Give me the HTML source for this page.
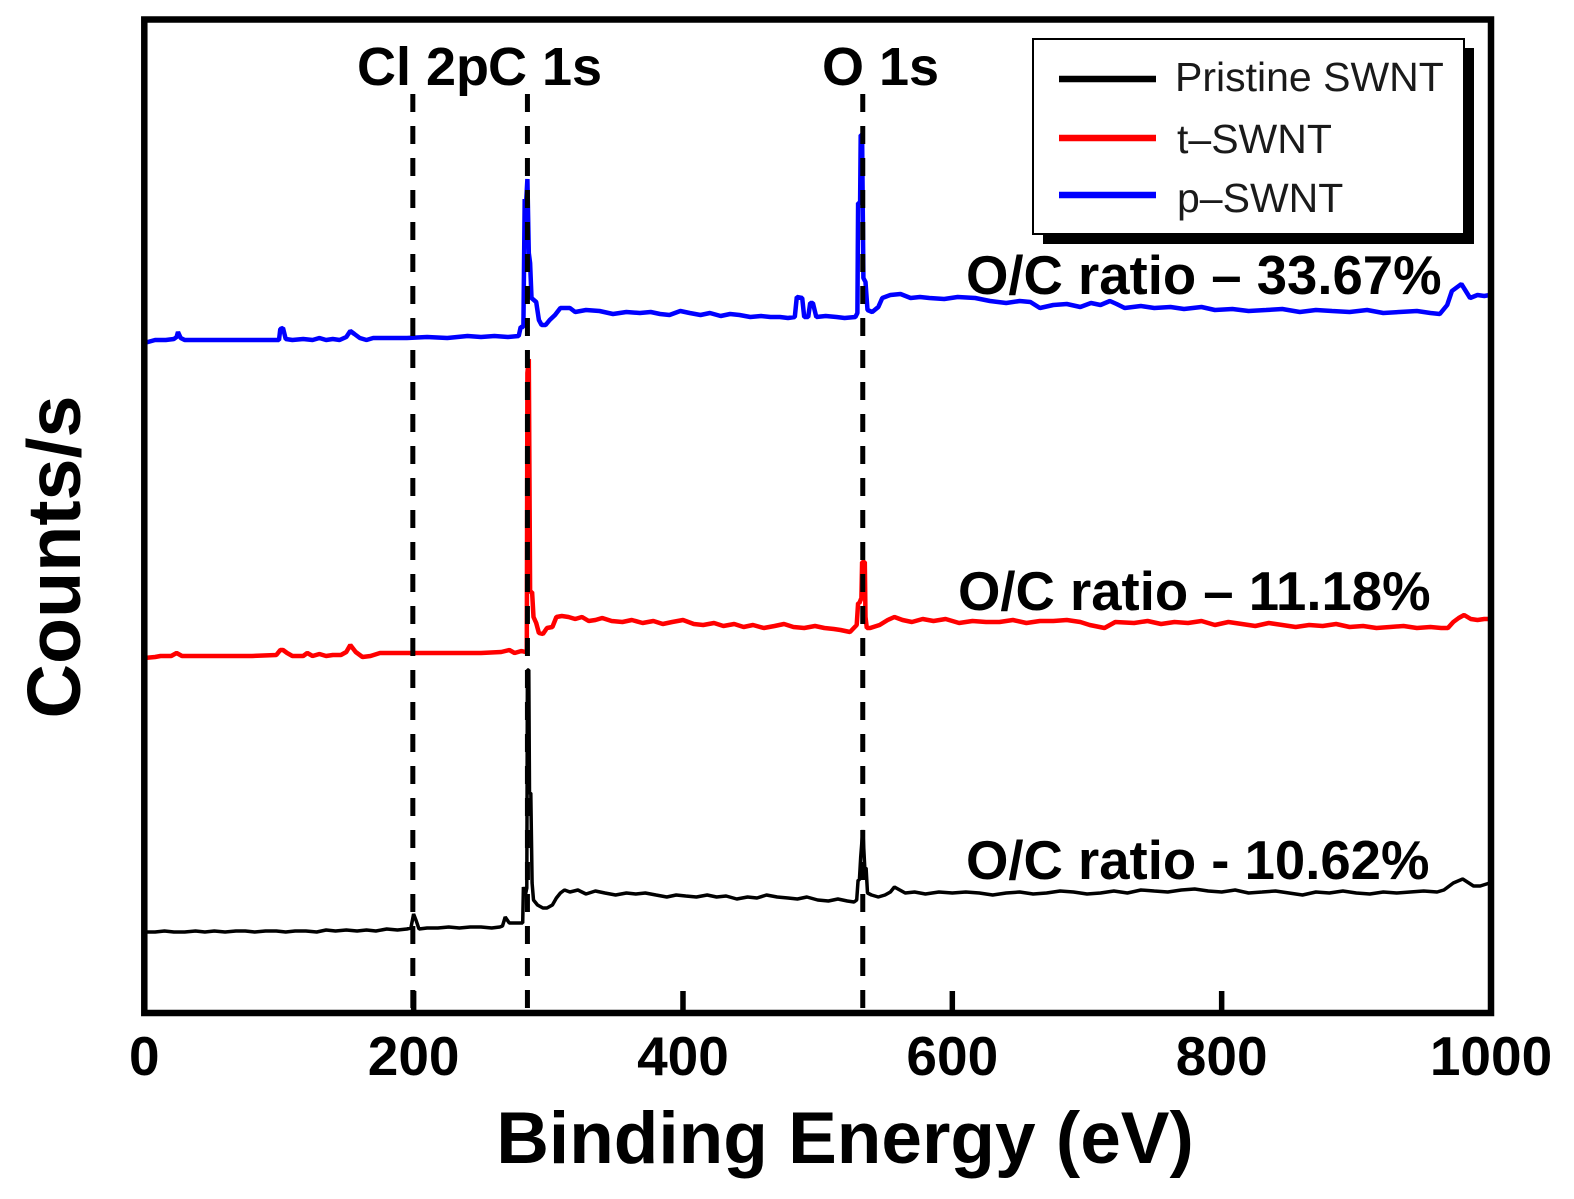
<!DOCTYPE html>
<html lang="en">
<head>
<meta charset="utf-8">
<title>XPS survey spectra</title>
<style>
html,body{margin:0;padding:0;background:#fff;}
svg{display:block;}
text{font-family:"Liberation Sans",sans-serif;fill:#000;}
.b{font-weight:700;}
</style>
</head>
<body>
<svg id="chart" xmlns="http://www.w3.org/2000/svg" width="1574" height="1199" viewBox="0 0 1574 1199">
  <rect x="0" y="0" width="1574" height="1199" fill="#fff"/>
  <g id="series"></g>
  <g id="guides"></g>
  <g id="ticks"></g>
  <rect x="144.3" y="19.5" width="1346.7" height="993.5" fill="none" stroke="#000" stroke-width="6.5"/>

  <text class="b" x="357" y="85" font-size="54">Cl 2p</text>
  <text class="b" x="488" y="85" font-size="54">C 1s</text>
  <text class="b" x="822" y="85" font-size="54">O 1s</text>

  <text class="b" x="966" y="294" font-size="54.5">O/C ratio – 33.67%</text>
  <text class="b" x="958" y="610" font-size="54.5">O/C ratio – 11.18%</text>
  <text class="b" x="966" y="879" font-size="54.5">O/C ratio - 10.62%</text>

  <text class="b" x="845" y="1163" font-size="73" text-anchor="middle">Binding Energy (eV)</text>
  <text class="b" transform="translate(80 557) rotate(-90)" font-size="75.5" text-anchor="middle">Counts/s</text>

  <g>
    <rect x="1043" y="48" width="431" height="196" fill="#000"/>
    <rect x="1033" y="39" width="431" height="195" fill="#fff" stroke="#000" stroke-width="2"/>
    <line x1="1059" x2="1156" y1="79" y2="79" stroke="#000" stroke-width="6.5"/>
    <line x1="1059" x2="1156" y1="138" y2="138" stroke="#f00" stroke-width="6.5"/>
    <line x1="1059" x2="1156" y1="195" y2="195" stroke="#00f" stroke-width="6.5"/>
    <text x="1175" y="91" font-size="41" style="fill:#1a1a1a">Pristine SWNT</text>
    <text x="1177" y="153" font-size="41" style="fill:#1a1a1a">t–SWNT</text>
    <text x="1177" y="212" font-size="41" style="fill:#1a1a1a">p–SWNT</text>
  </g>
</svg>
<script>
const tickValues = [0, 200, 400, 600, 800, 1000];
const tickLabels = ["0", "200", "400", "600", "800", "1000"];
const guideEnergies = [199.4, 284.5, 533.5];

const blackEnergy = [
  0,8,15,22,30,38,45,52,60,68,
  75,82,90,98,105,112,120,128,135,142,
  150,158,165,172,180,188,195,198,200,202,
  204,210,218,226,234,242,250,258,264,266,
  268,271,276,280,281,281.5,283,284,284.5,285.5,
  286,287,288,289,292,296,299,303,306,309,
  312,316,322,328,335,342,350,358,365,372,
  380,388,395,402,410,418,425,432,440,448,
  455,462,470,478,485,492,500,508,515,522,
  527,529,530,531,532,533.5,535,536,537,540,
  545,550,554,557,561,565,572,580,590,600,
  610,620,630,640,650,660,670,680,690,700,
  710,720,730,740,750,760,770,780,790,800,
  810,820,830,840,850,860,870,880,890,900,
  910,920,930,940,950,960,965,972,979,987,
  992,999];
const blackCounts = [
  81,81,82,81,81,82,81,82,81,82,
  82,81,82,82,81,82,82,81,83,82,
  83,82,83,82,84,83,84,85,99,92,
  84,85,85,86,85,86,86,85,86,87,
  96,90,90,90,90,126,118,125,343,343,
  220,220,130,113,108,105,105,108,115,120,
  123,121,123,119,122,120,118,120,119,120,
  118,116,118,117,116,118,116,117,114,116,
  115,118,116,115,114,116,113,112,114,112,
  111,113,133,133,156,183,145,145,120,118,
  116,118,121,126,123,120,121,119,121,120,
  121,120,118,120,121,119,120,122,121,119,
  120,122,120,123,122,121,123,124,122,121,
  123,120,121,122,120,118,121,120,122,120,
  119,121,120,121,122,121,123,130,134,127,
  127,130];

const redEnergy = [
  0,8,12,20,24,28,40,60,80,98,
  101,103,106,110,118,121,125,130,135,140,
  146,150,153,157,162,168,175,190,210,230,
  250,265,271,275,280,283,284,284.5,285.5,286.5,
  288,289,291,293,296,299,303,306,310,315,
  320,325,330,335,340,347,355,362,370,378,
  385,392,400,408,415,423,430,438,445,452,
  460,468,475,482,490,498,505,512,517,524,
  529,530,531,532.5,533,535,535.5,536.5,539,546,
  552,557,563,570,578,586,595,605,615,625,
  635,645,655,665,675,685,695,702,713,721,
  735,745,755,765,775,785,795,805,815,825,
  835,845,855,865,875,885,895,905,915,925,
  935,945,955,963,968,972,976,980,985,990,
  995,999];
const redCounts = [
  355,356,357,357,360,357,357,357,357,358,
  363,363,360,357,357,360,357,359,357,358,
  358,361,368,361,356,357,360,360,360,360,
  360,361,363,360,362,361,363,640,654,421,
  421,396,390,380,379,385,386,396,397,396,
  394,396,392,393,395,392,391,393,390,392,
  389,391,393,389,388,390,387,389,386,388,
  385,387,389,386,385,387,385,384,383,381,
  388,410,410,415,451,451,396,385,385,388,
  393,396,393,391,394,392,394,390,392,391,
  391,393,390,392,392,393,391,388,385,391,
  390,392,389,391,390,392,388,391,389,387,
  390,388,386,388,387,389,386,387,385,386,
  387,385,386,385,385,391,395,398,394,393,
  394,394];

const blueEnergy = [
  0,8,16,22,24,25,27,30,45,60,
  75,90,100,101,103,105,110,118,125,130,
  135,140,145,150,153,156,160,165,170,180,
  195,210,225,240,250,260,270,278,279.5,281.5,
  282.5,283.5,284.5,285.5,286.5,287.5,291,293,295,298,
  301,305,309,316,320,328,338,348,358,368,
  376,383,390,398,405,413,420,428,435,442,
  450,458,465,472,478,483,484.5,488.5,490,493,
  494.5,496.5,499,506,514,520,528,529.5,530,531.5,
  532,533,534,535.5,537,540.5,545,548,554,561.5,
  569,576,583,594,604,617,628,640,650,658,
  665,675,685,695,703,710,717,722,728,740,
  750,762,772,785,795,808,820,833,845,858,
  870,882,895,908,920,932,945,955,962,967.5,
  971,978,984.5,990,995,999];
const blueCounts = [
  670,673,673,674,676,681,675,673,673,673,
  673,673,673,684,685,674,673,674,673,675,
  673,674,673,676,682,679,675,673,675,675,
  675,676,675,677,676,677,676,677,686,686,
  814,810,834,760,750,715,711,693,688,688,
  693,698,705,705,701,703,702,699,701,700,
  701,699,698,702,700,698,700,697,699,698,
  696,697,696,696,695,696,716,715,696,696,
  710,710,696,697,696,695,696,700,810,810,
  878,878,735,731,703,701,706,715,718,719,
  715,716,715,714,716,715,712,710,712,711,
  705,708,709,706,710,708,712,709,705,707,
  705,706,704,706,703,704,702,703,704,701,
  703,702,701,703,700,701,702,700,699,708,
  722,729,715,718,717,718];

const seriesList = [
  {name: "series-pristine-swnt", energy: blackEnergy, counts: blackCounts, color: "#000", width: 3.5},
  {name: "series-t-swnt", energy: redEnergy, counts: redCounts, color: "#f00", width: 4.5},
  {name: "series-p-swnt", energy: blueEnergy, counts: blueCounts, color: "#00f", width: 4.5}
];

const NS = "http://www.w3.org/2000/svg";
const xAxis = v => 144.3 + (v / 1000) * 1346.7;
const yAxis = c => 1013 - c;

const seriesGroup = document.getElementById("series");
seriesList.forEach(s => {
  const line = document.createElementNS(NS, "polyline");
  
  
  line.setAttribute("points", s.energy.map((e, i) => xAxis(e).toFixed(1) + "," + yAxis(s.counts[i]).toFixed(1)).join(" "));
  line.setAttribute("fill", "none");
  line.setAttribute("stroke", s.color);
  line.setAttribute("stroke-width", s.width);
  line.setAttribute("stroke-linejoin", "bevel");
  seriesGroup.appendChild(line);
});

const guides = document.getElementById("guides");
guideEnergies.forEach(e => {
  const g = document.createElementNS(NS, "line");
  
  
  g.setAttribute("x1", xAxis(e));
  g.setAttribute("x2", xAxis(e));
  g.setAttribute("y1", 94);
  g.setAttribute("y2", 1008);
  g.setAttribute("stroke", "#000");
  g.setAttribute("stroke-width", 5);
  g.setAttribute("stroke-dasharray", "18 14");
  guides.appendChild(g);
});

const ticks = document.getElementById("ticks");
tickValues.forEach((v, i) => {
  const t = document.createElementNS(NS, "line");
  
  
  t.setAttribute("x1", xAxis(v));
  t.setAttribute("x2", xAxis(v));
  t.setAttribute("y1", 1013);
  t.setAttribute("y2", 991);
  t.setAttribute("stroke", "#000");
  t.setAttribute("stroke-width", 5.5);
  ticks.appendChild(t);
  const l = document.createElementNS(NS, "text");
  
  
  l.setAttribute("x", xAxis(v));
  l.setAttribute("y", 1075);
  l.setAttribute("class", "b");
  l.setAttribute("font-size", 55);
  l.setAttribute("text-anchor", "middle");
  l.textContent = tickLabels[i];
  ticks.appendChild(l);
});
</script>
</body>
</html>
